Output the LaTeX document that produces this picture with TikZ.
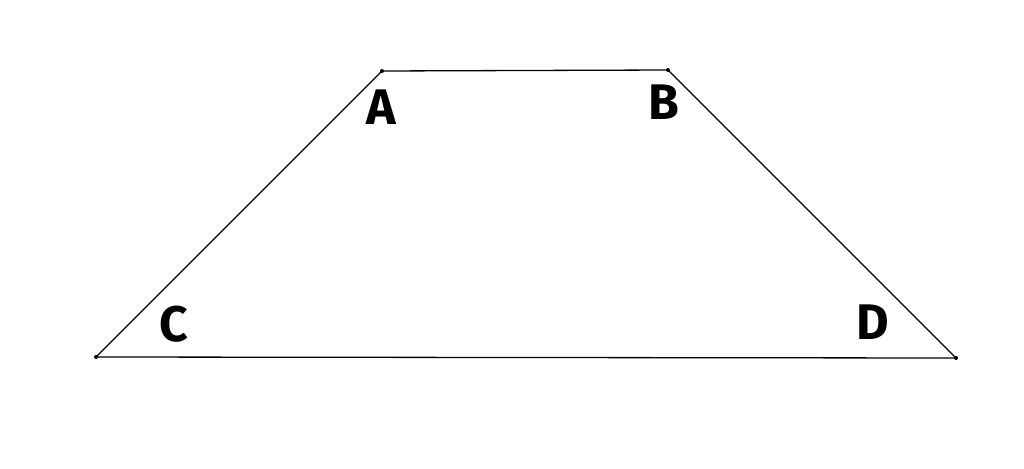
\documentclass[tikz,border=0pt]{standalone}
\usepackage{fontspec}
\setmainfont{Fira Sans}
\begin{document}
\begin{tikzpicture}[x=1pt,y=-1pt,
  edge/.style={line width=1.3pt,black},
  lbl/.style={font=\fontsize{50}{50}\selectfont\bfseries,inner sep=0pt},
  vert/.style={circle,fill=black,inner sep=0pt,minimum size=4pt}]
\useasboundingbox (0,0) rectangle (1024,468);
\node[vert] (A) at (382,71) {};
\node[vert] (B) at (668,70) {};
\node[vert] (C) at (96,357) {};
\node[vert] (D) at (956,358) {};
\draw[edge] (A.center) -- (B.center) -- (D.center) -- (C.center) -- cycle;
\node[lbl] (la) at (381,107) {A};
\node[lbl] (lb) at (664,102) {B};
\node[lbl] (lc) at (174,324) {C};
\node[lbl] (ld) at (873,322) {D};
\end{tikzpicture}
\end{document}
